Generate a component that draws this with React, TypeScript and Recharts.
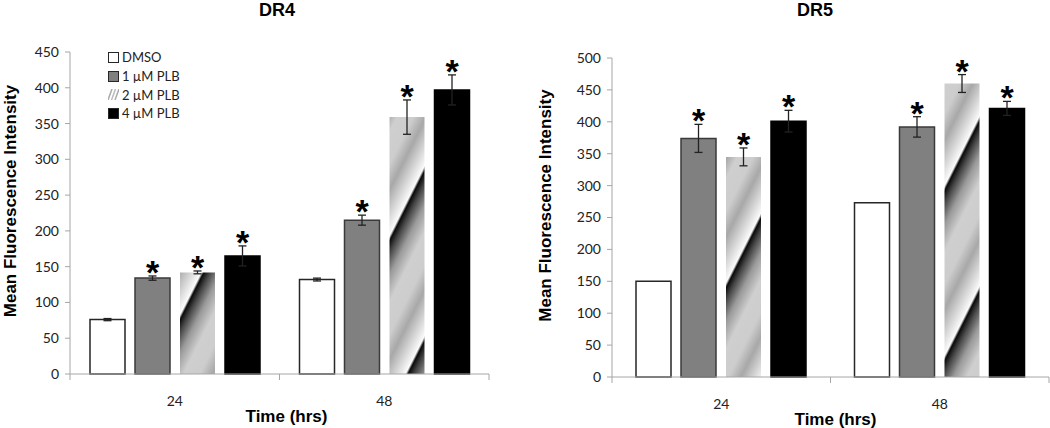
import React from 'react';
import { BarChart, Bar, XAxis, YAxis, ErrorBar, LabelList, Legend } from 'recharts';

// time points (hrs)
const categories = ['24', '48'];
const seriesNames = ['DMSO', '1 µM PLB', '2 µM PLB', '4 µM PLB'];
const dr4Ticks = [0, 50, 100, 150, 200, 250, 300, 350, 400, 450];
const dr5Ticks = [0, 50, 100, 150, 200, 250, 300, 350, 400, 450, 500];

// DR4 mean fluorescence intensity
const dr4Dmso = [76, 132];
const dr4Plb1 = [134, 215];
const dr4Plb2 = [142, 359];
const dr4Plb4 = [165, 397];
const dr4DmsoErr = [1.5, 2];
const dr4Plb1Err = [3, 7];
const dr4Plb2Err = [2, 24];
const dr4Plb4Err = [14, 21];

// DR5
const dr5Dmso = [150, 273];
const dr5Plb1 = [374, 392];
const dr5Plb2 = [345, 460];
const dr5Plb4 = [401, 421];
const dr5DmsoErr = [0, 0];
const dr5Plb1Err = [22, 16];
const dr5Plb2Err = [14, 14];
const dr5Plb4Err = [17, 11];

const AXIS = '#a6a6a6';
const TICK_FONT = 'Lato, "Open Sans", sans-serif';
const BOLD_FONT = '"Liberation Sans", Arial, sans-serif';

const buildRows = (vals: number[][], errs: number[][]) =>
  categories.map((time, i) => ({
    time,
    s0: vals[0][i], e0: errs[0][i],
    s1: vals[1][i], e1: errs[1][i],
    s2: vals[2][i], e2: errs[2][i],
    s3: vals[3][i], e3: errs[3][i],
  }));

const dr4Rows = buildRows([dr4Dmso, dr4Plb1, dr4Plb2, dr4Plb4], [dr4DmsoErr, dr4Plb1Err, dr4Plb2Err, dr4Plb4Err]);
const dr5Rows = buildRows([dr5Dmso, dr5Plb1, dr5Plb2, dr5Plb4], [dr5DmsoErr, dr5Plb1Err, dr5Plb2Err, dr5Plb4Err]);

const fills = (gradId: string) => [
  { fill: '#ffffff', stroke: '#262626' },
  { fill: '#808080', stroke: '#3a3a3a' },
  { fill: `url(#${gradId})`, stroke: 'none' },
  { fill: '#000000', stroke: '#000000' },
];

// steep repeating grey sweep used for the 2 µM bars
const StripeGradient = ({ id }: { id: string }) => (
  <defs>
    <linearGradient id={id} gradientUnits="userSpaceOnUse" x1={0} y1={0} x2={68} y2={34} spreadMethod="repeat">
      <stop offset="0" stopColor="#0a0a0a" />
      <stop offset="0.07" stopColor="#444" />
      <stop offset="0.2" stopColor="#9a9a9a" />
      <stop offset="0.36" stopColor="#cfcfcf" />
      <stop offset="0.55" stopColor="#cdcdcd" />
      <stop offset="0.7" stopColor="#a8a8a8" />
      <stop offset="0.85" stopColor="#d6d6d6" />
      <stop offset="0.97" stopColor="#fbfbfb" />
      <stop offset="1" stopColor="#0a0a0a" />
    </linearGradient>
  </defs>
);

// ticks sit on the category boundaries, labels in the middle
const XTick = (props: any) => {
  const { x, y, payload, index } = props;
  const half = payload.offset || 0;
  const last = index === categories.length - 1;
  return (
    <g>
      <line x1={x - half} x2={x - half} y1={y} y2={y + 6} stroke={AXIS} />
      {last && <line x1={x + half} x2={x + half} y1={y} y2={y + 6} stroke={AXIS} />}
      <text x={x} y={y + 32} textAnchor="middle" fontSize={14} fontFamily={TICK_FONT} fill="#222">
        {payload.value}
      </text>
    </g>
  );
};

const yLabel = (cx: number) => (props: any) => {
  const vb = props.viewBox;
  const cy = vb.y + vb.height / 2 - 12;
  return (
    <text x={cx} y={cy} transform={`rotate(-90 ${cx} ${cy})`} textAnchor="middle" dominantBaseline="central"
      fontSize={17} fontWeight="bold" fontFamily={BOLD_FONT} fill="#000">
      Mean Fluorescence Intensity
    </text>
  );
};

const xLabel = (dx: number, dy: number) => (props: any) => {
  const vb = props.viewBox;
  return (
    <text x={vb.x + vb.width / 2 + dx} y={vb.y + dy} textAnchor="middle" fontSize={17} fontWeight="bold"
      fontFamily={BOLD_FONT} fill="#000">
      Time (hrs)
    </text>
  );
};

const star = (errs: number[]) => (p: any) => {
  const vb = p.viewBox || p;
  const { x, y, width, height } = vb;
  const v = Number(p.value);
  const px = v ? height / v : 0;
  const top = y - (errs[p.index] || 0) * px;
  return (
    <text x={x + width / 2} y={top + 8} textAnchor="middle" fontSize={34} fontWeight="bold" fontFamily={BOLD_FONT} fill="#000">
      *
    </text>
  );
};

const LegendIcon = ({ i }: { i: number }) => {
  if (i === 2) {
    return (
      <svg width={11} height={11} style={{ marginRight: 3 }}>
        <line x1={0} y1={11} x2={4} y2={0} stroke="#aaa" strokeWidth={1.5} />
        <line x1={3.5} y1={11} x2={7.5} y2={0} stroke="#bbb" strokeWidth={1.5} />
        <line x1={7} y1={11} x2={11} y2={0} stroke="#aaa" strokeWidth={1.5} />
      </svg>
    );
  }
  const f = ['#ffffff', '#808080', '', '#000000'][i];
  return (
    <svg width={11} height={11} style={{ marginRight: 3 }}>
      <rect x={0.5} y={0.5} width={10} height={10} fill={f} stroke="#262626" />
    </svg>
  );
};

const LegendContent = (props: any) => {
  const entries = [...(props.payload || [])].sort(
    (a: any, b: any) => Number(String(a.dataKey).slice(1)) - Number(String(b.dataKey).slice(1)),
  );
  return (
    <div style={{ fontFamily: TICK_FONT, fontSize: 13, color: '#222' }}>
      {entries.map((entry: any) => {
        const i = Number(String(entry.dataKey).slice(1));
        return (
          <div key={entry.dataKey} style={{ display: 'flex', alignItems: 'center', height: 18.7 }}>
            <LegendIcon i={i} />
            <span>{entry.value}</span>
          </div>
        );
      })}
    </div>
  );
};

type PanelProps = {
  rows: any[];
  errs: number[][];
  ticks: number[];
  max: number;
  width: number;
  margin: { top: number; right: number; left: number; bottom: number };
  yWidth: number;
  xHeight: number;
  yLabelX: number;
  xLabelDx: number;
  gradId: string;
  legend?: boolean;
};

const Panel = (p: PanelProps) => {
  const styles = fills(p.gradId);
  return (
    <BarChart width={p.width} height={428} data={p.rows} margin={p.margin} barSize={35} barGap={10}>
      <StripeGradient id={p.gradId} />
      <XAxis dataKey="time" height={p.xHeight} stroke={AXIS} tickLine={false} tickSize={0} tickMargin={0}
        tick={<XTick />} label={{ content: xLabel(p.xLabelDx, 48) }} />
      <YAxis domain={[0, p.max]} ticks={p.ticks} width={p.yWidth} stroke={AXIS} tickSize={5} tickMargin={6}
        interval={0} tick={{ fill: '#222', fontSize: 14, fontFamily: TICK_FONT }}
        label={{ content: yLabel(p.yLabelX) }} />
      {p.legend && (
        <Legend layout="vertical" align="center" verticalAlign="middle" content={<LegendContent />}
          wrapperStyle={{ left: 108, top: 48, width: 'auto', height: 'auto' }} />
      )}
      {[0, 1, 2, 3].map((i) => (
        <Bar key={i} dataKey={`s${i}`} name={seriesNames[i]} fill={styles[i].fill} stroke={styles[i].stroke}
          strokeWidth={1.5} isAnimationActive={false}>
          <ErrorBar dataKey={`e${i}`} width={4} stroke="#222" strokeWidth={1.3} />
          {i > 0 && <LabelList dataKey={`s${i}`} content={star(p.errs[i])} />}
        </Bar>
      ))}
    </BarChart>
  );
};

const titleStyle: React.CSSProperties = {
  position: 'absolute',
  top: 0,
  fontFamily: BOLD_FONT,
  fontWeight: 'bold',
  fontSize: 18,
  lineHeight: '20px',
  transform: 'translateX(-50%)',
};

export default function App() {
  return (
    <div style={{ position: 'absolute', left: 0, top: 0, width: 1050, height: 428, background: '#fff', overflow: 'hidden' }}>
      <div style={{ ...titleStyle, left: 277 }}>DR4</div>
      <div style={{ ...titleStyle, left: 815 }}>DR5</div>
      <div style={{ position: 'absolute', left: 0, top: 0 }}>
        <Panel rows={dr4Rows} errs={[dr4DmsoErr, dr4Plb1Err, dr4Plb2Err, dr4Plb4Err]} ticks={dr4Ticks} max={450}
          width={530} margin={{ top: 52, right: 41, left: 0, bottom: 0 }} yWidth={70} xHeight={54}
          yLabelX={10} xLabelDx={7} gradId="stripe4" legend />
      </div>
      <div style={{ position: 'absolute', left: 530, top: 0 }}>
        <Panel rows={dr5Rows} errs={[dr5DmsoErr, dr5Plb1Err, dr5Plb2Err, dr5Plb4Err]} ticks={dr5Ticks} max={500}
          width={520} margin={{ top: 58, right: 1, left: 0, bottom: 0 }} yWidth={82} xHeight={51}
          yLabelX={15} xLabelDx={5} gradId="stripe5" />
      </div>
    </div>
  );
}
